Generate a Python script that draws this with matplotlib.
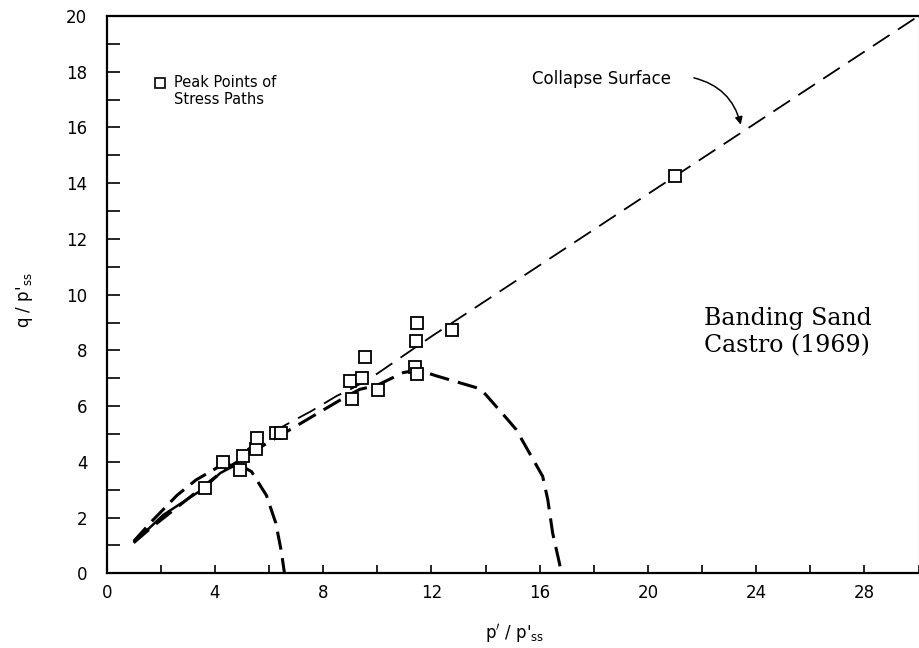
import matplotlib
matplotlib.use("Agg")
import matplotlib.pyplot as plt
from matplotlib.ticker import MultipleLocator

# ---- data ----
peak_p = [3.62, 4.30, 4.92, 5.05, 5.50, 5.55, 6.25, 6.45, 8.98, 9.05, 9.45, 9.55,
          10.02, 11.45, 11.42, 11.40, 11.45, 12.77, 21.0]
peak_q = [3.05, 4.00, 3.70, 4.20, 4.45, 4.85, 5.05, 5.05, 6.90, 6.25, 7.00, 7.75,
          6.58, 9.00, 8.32, 7.39, 7.15, 8.74, 14.25]

collapse_p = [5.2, 5.8, 6.64, 7.56, 8.49, 9.0, 9.75, 12.0, 30.0]
collapse_q = [4.45, 4.90, 5.34, 5.82, 6.36, 6.60, 7.00, 8.50, 20.0]

path1_p = [1.0, 1.7, 2.6, 3.3, 4.1, 4.8, 5.35, 5.9, 6.25, 6.45, 6.57]
path1_q = [1.15, 1.90, 2.80, 3.35, 3.80, 3.95, 3.65, 2.80, 1.80, 0.80, 0.0]

solid_p = [1.0, 2.1, 3.6, 4.2, 4.7]
solid_q = [1.10, 2.10, 3.05, 3.60, 3.85]

path2_p = [1.0, 1.6, 4.4, 5.0, 5.84, 6.89, 7.9, 8.86, 9.35, 10.0, 10.95, 11.5, 12.2,
           13.77, 14.0, 14.76, 15.13, 15.62, 16.11, 16.3, 16.48, 16.73, 16.8]
path2_q = [1.10, 1.60, 3.75, 4.10, 4.62, 5.22, 5.80, 6.35, 6.60, 6.75, 7.20, 7.30, 7.08,
           6.63, 6.42, 5.58, 5.16, 4.32, 3.48, 2.64, 1.44, 0.36, 0.0]

x_ticks_major = [0, 4, 8, 12, 16, 20, 24, 28]
y_ticks_major = [0, 2, 4, 6, 8, 10, 12, 14, 16, 18, 20]

fig = plt.figure(figsize=(9.19, 6.48), dpi=100)
ax = fig.add_axes([0.1161, 0.1153, 0.8834, 0.86])

ax.set_xlim(0, 30)
ax.set_ylim(0, 20)

# collapse surface (thin dashed)
l, = ax.plot(collapse_p, collapse_q, color='k', lw=1.3)
l.set_dashes([11, 5.5])
# stress path 1 (thick dashed)
l, = ax.plot(path1_p, path1_q, color='k', lw=2.2)
l.set_dashes([6.0, 2.8])
# solid path
ax.plot(solid_p, solid_q, color='k', lw=1.8, solid_capstyle='butt')
# stress path 2 (thick dashed)
l, = ax.plot(path2_p, path2_q, color='k', lw=2.2)
l.set_dashes([6.5, 3.0])

# peak points
ax.plot(peak_p, peak_q, linestyle='none', marker='s', ms=9, mfc='white',
        mec='k', mew=1.3, zorder=5)

# legend-like annotation
ax.plot([1.97], [17.6], linestyle='none', marker='s', ms=6.5, mfc='white',
        mec='k', mew=1.2, clip_on=False)
ax.text(2.5, 17.62, "Peak Points of", fontsize=10.5, ha='left', va='center',
        family='DejaVu Sans')
ax.text(2.5, 17.0, "Stress Paths", fontsize=10.5, ha='left', va='center',
        family='DejaVu Sans')

# collapse surface label + curved arrow
ax.text(15.73, 17.74, "Collapse Surface", fontsize=12, ha='left', va='center',
        family='DejaVu Sans')
ax.annotate("", xy=(23.43, 16.1), xytext=(21.7, 17.78),
            arrowprops=dict(arrowstyle="-|>", connectionstyle="arc3,rad=-0.3",
                            lw=1.1, color='k', mutation_scale=11,
                            shrinkA=0, shrinkB=0))

# sample label
ax.text(22.08, 8.66, "Banding Sand\nCastro (1969)", fontsize=17, ha='left',
        va='center', family='DejaVu Serif', linespacing=1.25)

# ticks
ax.set_xticks(x_ticks_major)
ax.set_yticks(y_ticks_major)
ax.xaxis.set_minor_locator(MultipleLocator(2))
ax.yaxis.set_minor_locator(MultipleLocator(1))
ax.tick_params(axis='x', which='both', direction='in', length=6, width=1.2,
               labelsize=12, pad=8)
ax.tick_params(axis='y', which='both', direction='in', length=9, width=1.2,
               labelsize=12, pad=14)
ax.tick_params(top=False, right=False)

for s in ['left', 'bottom', 'top']:
    ax.spines[s].set_linewidth(1.6)
ax.spines['right'].set_linewidth(0.8)
ax.spines['right'].set_color('#777777')

ax.set_xlabel(r"p$'$ / p$'_{\mathrm{ss}}$", fontsize=12)
ax.set_ylabel(r"q / p$'_{\mathrm{ss}}$", fontsize=12)
ax.xaxis.set_label_coords(0.503, -0.088)
ax.yaxis.set_label_coords(-0.088, 0.49)

fig.savefig("out.png", dpi=100)
